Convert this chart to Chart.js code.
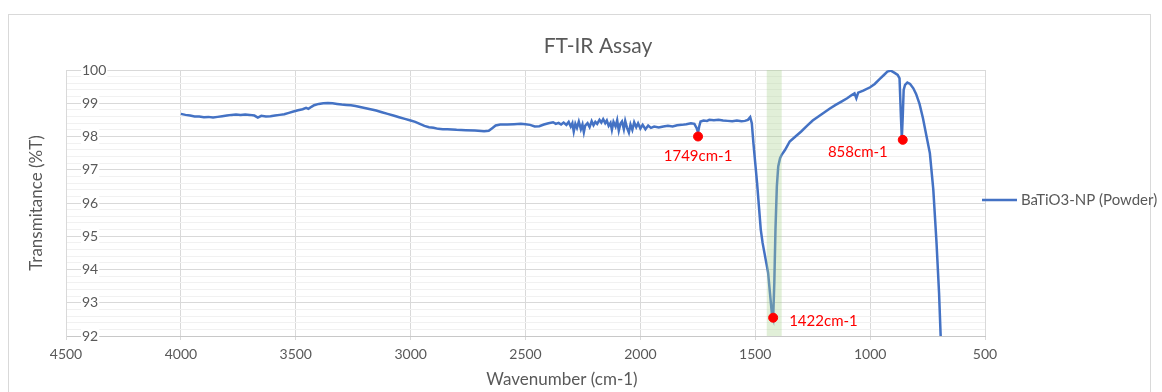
<!DOCTYPE html>
<html lang="en">
<head>
<meta charset="UTF-8">
<title>FT-IR Assay</title>
<script src="https://cdn.jsdelivr.net/npm/chart.js"></script>
<style>
    html, body { margin: 0; padding: 0; background: #fff; overflow: hidden; }
    .frame { position: absolute; left: 8px; top: 14px; width: 1141px; height: 400px; border: 1px solid #d9d9d9; }
    .wrap { position: absolute; left: 0; top: 0; width: 1162px; height: 392px; }
</style>
</head>
<body>
<div class="frame"></div>
<div class="wrap"><canvas id="ftir" width="1162" height="392"></canvas></div>

<script>
    // spectrum, wavenumber (cm-1) vs transmittance (%T), rows of ten
    const wavenumber = [
        4000, 3980, 3960, 3940, 3920, 3900, 3880, 3860, 3840, 3820,
        3800, 3780, 3760, 3740, 3720, 3700, 3680, 3665, 3650, 3630,
        3610, 3590, 3570, 3550, 3530, 3510, 3490, 3470, 3455, 3445,
        3430, 3420, 3400, 3380, 3360, 3340, 3320, 3300, 3280, 3260,
        3240, 3220, 3200, 3175, 3150, 3125, 3100, 3075, 3050, 3025,
        3000, 2980, 2960, 2940, 2920, 2900, 2880, 2860, 2840, 2820,
        2800, 2760, 2720, 2680, 2660, 2645, 2630, 2610, 2580, 2550,
        2520, 2500, 2480, 2460, 2440, 2420, 2400, 2380, 2368, 2356,
        2345, 2334, 2322, 2312, 2303, 2296, 2290, 2283, 2276, 2268,
        2259, 2252, 2246, 2240, 2230, 2221, 2212, 2204, 2196, 2188,
        2178, 2170, 2162, 2153, 2146, 2138, 2130, 2124, 2117, 2108,
        2101, 2094, 2087, 2080, 2072, 2066, 2058, 2050, 2043, 2035,
        2027, 2018, 2010, 2000, 1990, 1978, 1966, 1954, 1940, 1920,
        1900, 1880, 1860, 1840, 1820, 1800, 1780, 1765, 1755, 1749,
        1744, 1738, 1725, 1710, 1700, 1680, 1660, 1640, 1620, 1600,
        1580, 1560, 1545, 1532, 1522, 1515, 1508, 1500, 1492, 1484,
        1476, 1468, 1460, 1452, 1444, 1436, 1428, 1422, 1417, 1412,
        1406, 1400, 1392, 1385, 1370, 1350, 1325, 1300, 1275, 1250,
        1225, 1200, 1175, 1150, 1125, 1100, 1080, 1068, 1060, 1052,
        1030, 1000, 980, 960, 940, 925, 910, 895, 880, 872,
        866, 862, 858, 854, 848, 838, 826, 812, 800, 785,
        770, 755, 740, 725, 711, 700, 693
    ];
    const transmittance = [
        98.68, 98.65, 98.63, 98.60, 98.60, 98.58, 98.59, 98.57, 98.59, 98.61,
        98.63, 98.65, 98.66, 98.65, 98.66, 98.65, 98.63, 98.57, 98.62, 98.60,
        98.61, 98.63, 98.65, 98.67, 98.71, 98.75, 98.79, 98.82, 98.86, 98.83,
        98.90, 98.94, 98.98, 99.00, 99.01, 99.00, 98.98, 98.96, 98.95, 98.94,
        98.92, 98.89, 98.86, 98.82, 98.78, 98.73, 98.68, 98.63, 98.58, 98.53,
        98.48, 98.44, 98.38, 98.32, 98.28, 98.26, 98.23, 98.22, 98.22, 98.21,
        98.20, 98.19, 98.18, 98.16, 98.17, 98.25, 98.33, 98.36, 98.36, 98.37,
        98.38, 98.37, 98.35, 98.30, 98.31, 98.36, 98.40, 98.43, 98.38, 98.41,
        98.36, 98.42, 98.35, 98.44, 98.30, 98.40, 98.15, 98.38, 98.26, 98.45,
        98.22, 98.36, 98.13, 98.33, 98.40, 98.28, 98.46, 98.34, 98.44, 98.38,
        98.50, 98.42, 98.52, 98.40, 98.48, 98.32, 98.41, 98.20, 98.44, 98.30,
        98.49, 98.18, 98.38, 98.45, 98.22, 98.47, 98.26, 98.12, 98.36, 98.20,
        98.43, 98.28, 98.40, 98.24, 98.35, 98.22, 98.33, 98.26, 98.30, 98.27,
        98.30, 98.32, 98.30, 98.34, 98.35, 98.37, 98.40, 98.38, 98.25, 98.12,
        98.30, 98.45, 98.48, 98.47, 98.50, 98.49, 98.50, 98.48, 98.47, 98.46,
        98.48, 98.46, 98.47, 98.50, 98.58, 98.40, 97.80, 97.20, 96.60, 95.90,
        95.20, 94.80, 94.50, 94.20, 93.90, 93.30, 92.70, 92.55, 93.60, 95.20,
        96.50, 97.10, 97.35, 97.45, 97.60, 97.85, 98.00, 98.15, 98.32, 98.48,
        98.60, 98.72, 98.84, 98.95, 99.05, 99.15, 99.25, 99.30, 99.15, 99.32,
        99.38, 99.48, 99.58, 99.72, 99.85, 99.95, 99.98, 99.92, 99.85, 99.75,
        98.60, 97.95, 98.60, 99.40, 99.55, 99.62, 99.58, 99.45, 99.28, 98.98,
        98.55, 98.02, 97.50, 96.40, 94.80, 93.30, 92.00
    ];

    // marked peaks
    const peakWavenumber = [1749, 1422, 858];
    const peakTransmittance = [98.0, 92.55, 97.9];
    const peakLabelSide = ['below', 'right', 'left'];

    // shaded region around the main band
    const bandRange = [1450, 1385];

    const xTickValues = [4500, 4000, 3500, 3000, 2500, 2000, 1500, 1000, 500];
    const yTickValues = [92, 93, 94, 95, 96, 97, 98, 99, 100];

    const FONT = 'Lato, "Open Sans", sans-serif';
    const GRAY = '#595959';
    const BLUE = '#4472C4';

    const spectrum = wavenumber.map((w, i) => ({ x: w, y: transmittance[i] }));
    const peaks = peakWavenumber.map((w, i) => ({ x: w, y: peakTransmittance[i] }));

    const isMajor = v => yTickValues.some(t => Math.abs(t - v) < 1e-6);

    // green band goes over the trace but under the peak dots
    const bandPlugin = {
        id: 'band',
        afterDatasetDraw(chart, args) {
            if (args.index !== 0) return;
            const { ctx, chartArea, scales } = chart;
            const x1 = scales.x.getPixelForValue(bandRange[0]);
            const x2 = scales.x.getPixelForValue(bandRange[1]);
            ctx.save();
            ctx.fillStyle = 'rgba(169, 209, 142, 0.35)';
            ctx.fillRect(Math.min(x1, x2), chartArea.top, Math.abs(x2 - x1), chartArea.bottom - chartArea.top);
            ctx.restore();
        }
    };

    const peakLabelPlugin = {
        id: 'peakLabels',
        afterDatasetsDraw(chart) {
            const { ctx } = chart;
            const meta = chart.getDatasetMeta(1);
            ctx.save();
            ctx.font = '15px ' + FONT;
            ctx.fillStyle = '#ff0000';
            ctx.textBaseline = 'middle';
            meta.data.forEach((pt, i) => {
                const text = peakWavenumber[i] + 'cm-1';
                const side = peakLabelSide[i];
                if (side === 'below') {
                    ctx.textAlign = 'center';
                    ctx.fillText(text, pt.x, pt.y + 20);
                } else if (side === 'right') {
                    ctx.textAlign = 'left';
                    ctx.fillText(text, pt.x + 16, pt.y + 3);
                } else {
                    ctx.textAlign = 'right';
                    ctx.fillText(text, pt.x - 15, pt.y + 12);
                }
            });
            ctx.restore();
        }
    };

    // chart title, x axis caption and the single legend entry
    const headerPlugin = {
        id: 'header',
        afterDraw(chart) {
            const { ctx } = chart;
            const ds = chart.data.datasets[0];
            ctx.save();
            ctx.fillStyle = GRAY;
            ctx.textBaseline = 'middle';
            ctx.textAlign = 'center';
            ctx.font = '21px ' + FONT;
            ctx.fillText('FT-IR Assay', 598, 46);

            ctx.font = '17px ' + FONT;
            ctx.fillText('Wavenumber (cm-1)', 562, 380);

            ctx.strokeStyle = ds.borderColor;
            ctx.lineWidth = 2.5;
            ctx.beginPath();
            ctx.moveTo(982, 200);
            ctx.lineTo(1017, 200);
            ctx.stroke();
            ctx.textAlign = 'left';
            ctx.font = '15px ' + FONT;
            ctx.fillText(ds.label, 1021, 200);
            ctx.restore();
        }
    };

    new Chart(document.getElementById('ftir'), {
        type: 'line',
        data: {
            datasets: [
                {
                    label: 'BaTiO3-NP (Powder)',
                    data: spectrum,
                    borderColor: BLUE,
                    borderWidth: 2.5,
                    pointRadius: 0,
                    tension: 0,
                    fill: false,
                    order: 2
                },
                {
                    label: 'peaks',
                    data: peaks,
                    showLine: false,
                    pointRadius: 4.5,
                    pointBackgroundColor: '#ff0000',
                    pointBorderColor: '#ff0000',
                    order: 1
                }
            ]
        },
        options: {
            responsive: false,
            animation: false,
            layout: { padding: { top: 70, left: 10, right: 177, bottom: 0 } },
            plugins: {
                legend: { display: false },
                title: { display: false },
                tooltip: { enabled: false }
            },
            scales: {
                x: {
                    type: 'linear',
                    reverse: true,
                    min: 500,
                    max: 4500,
                    afterBuildTicks: scale => { scale.ticks = xTickValues.map(v => ({ value: v })); },
                    afterFit: scale => { scale.height = 56; },
                    grid: { color: '#d9d9d9', tickLength: 4 },
                    border: { color: '#c8c8c8' },
                    ticks: {
                        color: GRAY,
                        font: { family: FONT, size: 14 },
                        padding: 6,
                        maxRotation: 0,
                        callback: v => String(v)
                    }
                },
                y: {
                    min: 92,
                    max: 100,
                    afterFit: scale => { scale.width = 56; },
                    grid: {
                        drawTicks: false,
                        color: ctx => isMajor(ctx.tick.value) ? '#d9d9d9' : '#f1f1f1'
                    },
                    border: { color: '#d9d9d9' },
                    ticks: {
                        stepSize: 0.2,
                        autoSkip: false,
                        mirror: true,
                        padding: 16,
                        color: GRAY,
                        font: { family: FONT, size: 14 },
                        showLabelBackdrop: ctx => isMajor(ctx.tick.value),
                        backdropColor: '#ffffff',
                        backdropPadding: { left: 1, right: 1, top: 0, bottom: 0 },
                        callback: v => isMajor(v) ? String(Math.round(v)) : ''
                    },
                    title: {
                        display: true,
                        text: 'Transmitance (%T)',
                        color: GRAY,
                        font: { family: FONT, size: 17 },
                        padding: { top: 16, bottom: 0 }
                    }
                }
            }
        },
        plugins: [bandPlugin, peakLabelPlugin, headerPlugin]
    });
</script>
</body>
</html>
